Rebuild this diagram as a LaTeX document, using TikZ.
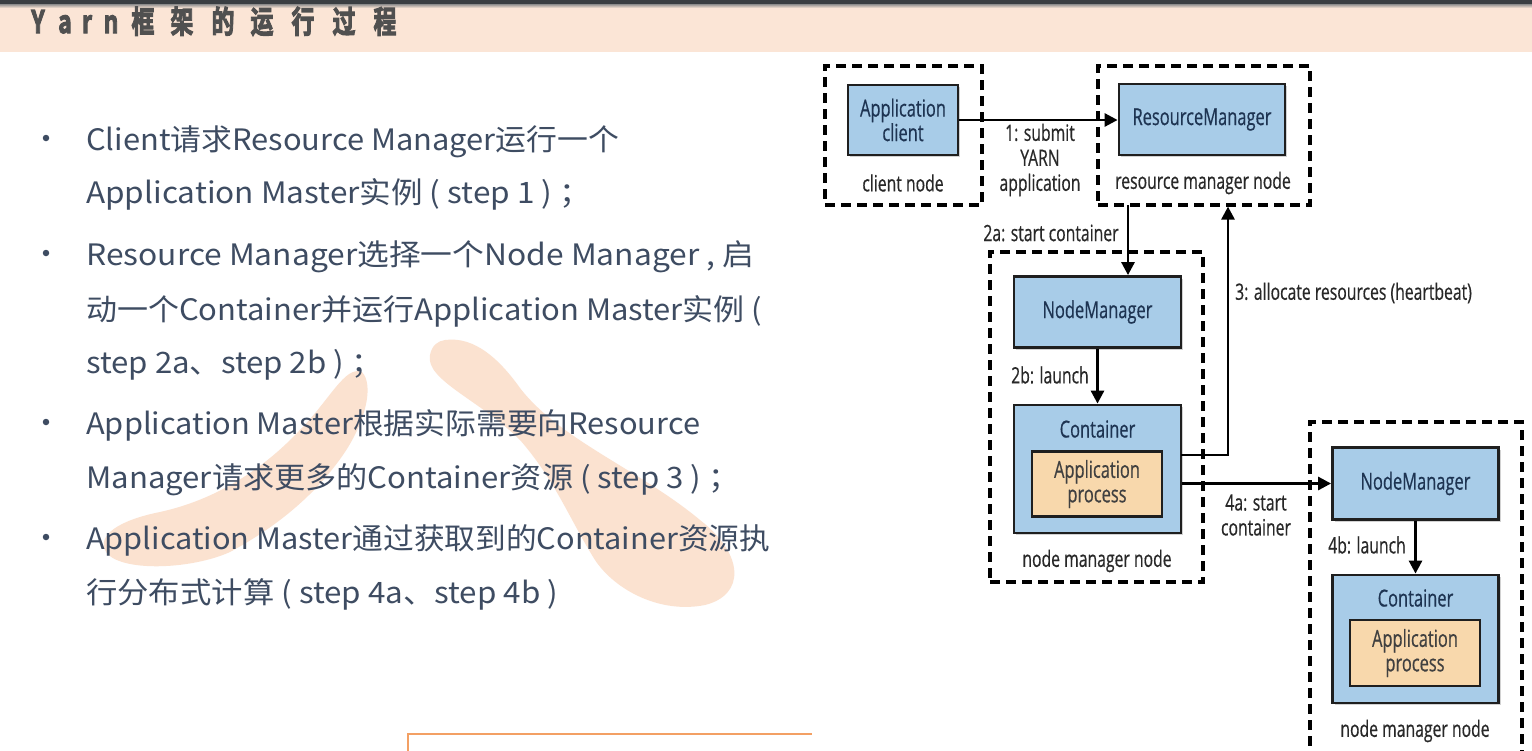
\documentclass[tikz,border=0pt]{standalone}
\usepackage{fontspec}
\usetikzlibrary{arrows.meta,shadows}
\setmainfont{Open Sans}
\newfontfamily\cjk{Noto Sans CJK SC}
\newfontfamily\cjkbold{Noto Sans CJK SC Bold}
\newfontfamily\diag[FakeStretch=0.7, FakeBold=0.5]{Open Sans}
\definecolor{peach}{RGB}{251,229,214}
\definecolor{topbar}{RGB}{58,62,66}
\definecolor{wm}{RGB}{251,226,208}
\definecolor{titletxt}{RGB}{80,80,80}
\definecolor{bodytxt}{RGB}{62,76,98}
\definecolor{boxblue}{RGB}{168,204,232}
\definecolor{boxtan}{RGB}{248,216,172}
\definecolor{navy}{RGB}{30,52,82}
\definecolor{lbl}{RGB}{40,40,40}
\definecolor{orangeln}{RGB}{243,160,100}
\newlength\fitw
\newcommand\fitline[2]{\settowidth\fitw{#2}\pgfmathsetmacro\fitsx{#1/\fitw}\scalebox{\fitsx}[1]{#2}}
\newcommand\tch[1]{\scalebox{0.74}[1]{\special{pdf:literal 2 Tr 1.1 w}#1\special{pdf:literal 0 Tr}}}
\tikzset{
  bluebox/.style={draw=black!88, line width=2.8pt, fill=boxblue,
    drop shadow={shadow xshift=2pt, shadow yshift=-2pt, opacity=0.35},
    text=navy, font=\diag\fontsize{23.5}{24.5}\selectfont, align=center, inner sep=0pt},
  tanbox/.style={draw=black!88, line width=2.8pt, fill=boxtan,
    text=black!75, font=\diag\fontsize{23.5}{24.5}\selectfont, align=center, inner sep=0pt},
  nodebox/.style={draw=black, line width=3.2pt, dash pattern=on 10pt off 6pt, inner sep=0pt},
  lab/.style={text=lbl, font=\diag\fontsize{22.5}{25}\selectfont, align=center, inner sep=0pt},
  arr/.style={draw=black, line width=2.8pt, -{Triangle[length=13pt,width=13pt]}},
  ttl/.style={text=titletxt, font=\cjkbold\fontsize{31}{33}\selectfont, anchor=base, inner sep=0pt},
  body/.style={text=bodytxt, font=\cjk\fontsize{29.5}{32}\selectfont, anchor=base west, inner sep=0pt},
  dot/.style={circle, fill=bodytxt, minimum size=6.5pt, inner sep=0pt}
}
\begin{document}
\begin{tikzpicture}[x=1pt,y=1pt]
\clip (0,0) rectangle (1532,-750);
\fill[white] (0,0) rectangle (1532,-750);
% header
\fill[peach] (0,-4) rectangle (1532,-52);
\fill[topbar] (0,0) rectangle (1532,-4);
\shade[top color=black!45, bottom color=peach] (0,-4) rectangle (1532,-8);
\node[ttl] (t1) at (38,-33) {\tch{Y}};
\node[ttl] (t2) at (65,-33) {\tch{a}};
\node[ttl] (t3) at (87,-33) {\tch{r}};
\node[ttl] (t4) at (111,-33) {\tch{n}};
\node[ttl] (t5) at (143,-33) {\tch{框}};
\node[ttl] (t6) at (182,-33) {\tch{架}};
\node[ttl] (t7) at (223,-33) {\tch{的}};
\node[ttl] (t8) at (262,-33) {\tch{运}};
\node[ttl] (t9) at (303,-33) {\tch{行}};
\node[ttl] (t10) at (344,-33) {\tch{过}};
\node[ttl] (t11) at (385,-33) {\tch{程}};
% watermark strokes
\fill[wm] (362,-372) .. controls (374,-385) and (366,-420) .. (345,-452)
  .. controls (318,-492) and (280,-525) .. (230,-552)
  .. controls (190,-570) and (120,-572) .. (106,-552)
  .. controls (96,-535) and (120,-520) .. (160,-512)
  .. controls (215,-500) and (262,-470) .. (298,-432)
  .. controls (330,-400) and (345,-365) .. (362,-372) -- cycle;
\fill[wm] (445,-340) .. controls (475,-336) and (500,-360) .. (520,-388)
  .. controls (560,-440) and (640,-470) .. (700,-520)
  .. controls (745,-555) and (745,-595) .. (705,-605)
  .. controls (660,-614) and (615,-590) .. (595,-560)
  .. controls (570,-520) and (555,-480) .. (520,-440)
  .. controls (480,-400) and (425,-380) .. (430,-355)
  .. controls (432,-345) and (438,-341) .. (445,-340) -- cycle;
% bullets
\node[dot] (d1) at (46,-138) {};
\node[dot] (d2) at (46,-253) {};
\node[dot] (d3) at (46,-422) {};
\node[dot] (d4) at (46,-537) {};
\node[body] (l1) at (86,-150) {\fitline{533}{Client请求Resource Manager运行一个}};
\node[body] (l2) at (86,-203) {\fitline{505}{Application Master实例 ( step 1 ) ；}};
\node[body] (l3) at (86,-265) {\fitline{668}{Resource Manager选择一个Node Manager , 启}};
\node[body] (l4) at (86,-320) {\fitline{676}{动一个Container并运行Application Master实例 (}};
\node[body] (l5) at (86,-373) {\fitline{296}{step 2a、step 2b ) ；}};
\node[body] (l6) at (86,-434) {\fitline{614}{Application Master根据实际需要向Resource}};
\node[body] (l7) at (86,-488) {\fitline{653}{Manager请求更多的Container资源 ( step 3 ) ；}};
\node[body] (l8) at (86,-549) {\fitline{684}{Application Master通过获取到的Container资源执}};
\node[body] (l9) at (86,-603) {\fitline{472}{行分布式计算 ( step 4a、step 4b )}};
% bottom orange box (cut off)
\draw[orangeln, line width=1.6pt] (408,-760) -- (408,-734) -- (812,-734);
% diagram: dashed machine boxes
\node[nodebox, minimum width=157pt, minimum height=139pt] (cn) at (903.5,-135.5) {};
\node[nodebox, minimum width=212pt, minimum height=139pt] (rmn) at (1204,-135.5) {};
\node[nodebox, minimum width=213pt, minimum height=330pt] (nmn1) at (1096.5,-417) {};
\node[nodebox, minimum width=212pt, minimum height=350pt] (nmn2) at (1416,-597) {};
% boxes
\node[bluebox, minimum width=110pt, minimum height=70pt] (ac) at (903,-120) {Application\\client};
\node[bluebox, minimum width=166pt, minimum height=71pt] (rm) at (1202,-119.5) {ResourceManager};
\node[bluebox, minimum width=167pt, minimum height=71pt] (nm1) at (1097.5,-312) {NodeManager};
\node[bluebox, minimum width=167pt, minimum height=128pt] (c1) at (1097.5,-469) {};
\node[text=navy, font=\diag\fontsize{23.5}{24.5}\selectfont, inner sep=0pt] (c1t) at (1097.5,-429) {Container};
\node[tanbox, minimum width=130pt, minimum height=65pt] (ap1) at (1097,-484) {Application\\process};
\node[bluebox, minimum width=166pt, minimum height=72pt] (nm2) at (1415.5,-483.5) {NodeManager};
\node[bluebox, minimum width=166pt, minimum height=128pt] (c2) at (1415.5,-639) {};
\node[text=navy, font=\diag\fontsize{23.5}{24.5}\selectfont, inner sep=0pt] (c2t) at (1415.5,-598) {Container};
\node[tanbox, minimum width=130pt, minimum height=66pt] (ap2) at (1415,-653) {Application\\process};
% labels
\node[lab] (lc) at (903,-183) {client node};
\node[lab] (lrm) at (1203,-183) {resource manager node};
\node[lab] (l1s) at (1040,-160) {1: submit\\YARN\\application};
\node[lab] (l2a) at (1051,-233) {2a: start container};
\node[lab] (l2b) at (1050,-375) {2b: launch};
\node[lab, anchor=west] (l3a) at (1235,-293) {3: allocate resources (heartbeat)};
\node[lab] (l4a) at (1256,-515) {4a: start\\container};
\node[lab] (lnm1) at (1097,-561) {node manager node};
\node[lab] (l4b) at (1367,-545) {4b: launch};
\node[lab] (lnm2) at (1415,-731) {node manager node};
% connectors
\coordinate (a2) at (1128,-205);
\coordinate (a3s) at (1181,-455);
\coordinate (a3c) at (1228,-455);
\draw[arr] (ac.east) -- (ac.east -| rm.west);
\draw[arr] (a2) -- (a2 |- nm1.north);
\draw[arr] (nm1.south) -- (c1.north);
\draw[arr] (a3s) -- (a3c) -- (a3c |- rmn.south);
\draw[arr] (c1.east |- nm2.west) -- (nm2.west);
\draw[arr] (nm2.south) -- (c2.north);
\end{tikzpicture}
\end{document}
